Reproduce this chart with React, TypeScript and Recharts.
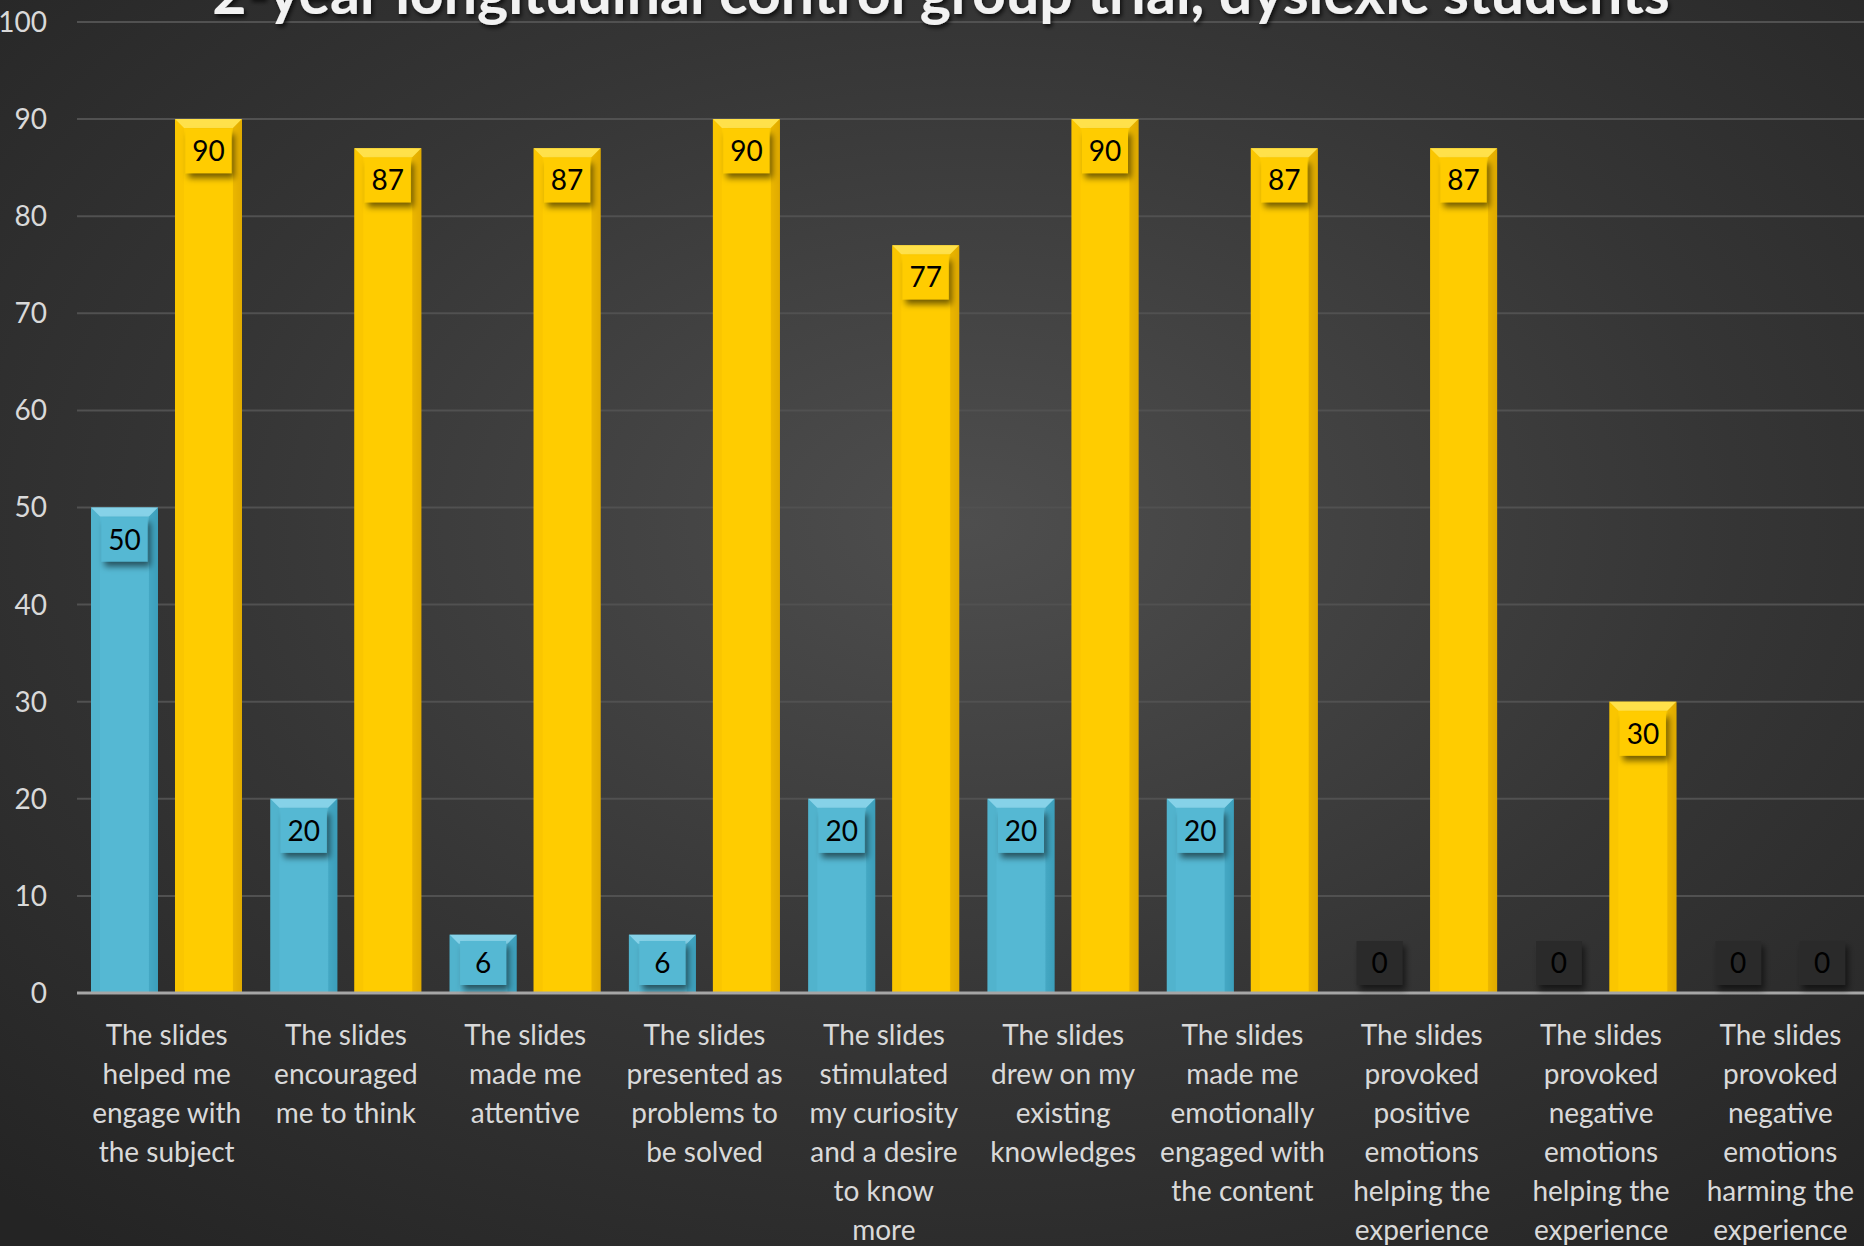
import { Bar, BarChart, CartesianGrid, XAxis, YAxis } from "recharts";

const title = "2-year longitudinal control group trial, dyslexic students";

const categories = [
  "The slides\nhelped me\nengage with\nthe subject",
  "The slides\nencouraged\nme to think",
  "The slides\nmade me\nattentive",
  "The slides\npresented as\nproblems to\nbe solved",
  "The slides\nstimulated\nmy curiosity\nand a desire\nto know\nmore",
  "The slides\ndrew on my\nexisting\nknowledges",
  "The slides\nmade me\nemotionally\nengaged with\nthe content",
  "The slides\nprovoked\npositive\nemotions\nhelping the\nexperience",
  "The slides\nprovoked\nnegative\nemotions\nhelping the\nexperience",
  "The slides\nprovoked\nnegative\nemotions\nharming the\nexperience",
];

const controlValues = [50, 20, 6, 6, 20, 20, 20, 0, 0, 0];
const trialValues = [90, 87, 87, 90, 77, 90, 87, 87, 30, 0];

const yTicks = [0, 10, 20, 30, 40, 50, 60, 70, 80, 90, 100];

const data = categories.map((c, i) => ({
  name: c,
  control: controlValues[i],
  trial: trialValues[i],
}));

const FONT = "Lato, 'Open Sans', sans-serif";

const palette = {
  cyan: { main: "#55b8d3", edge: "#3c9fba", top: "#86d2e8", side: "#4aa9c4" },
  yellow: { main: "#ffcc00", edge: "#e0aa00", top: "#ffe14a", side: "#f2bb00" },
};

function makeShape(key: "cyan" | "yellow") {
  const c = palette[key];
  return (props: any) => {
    const { x, y, width, height } = props;
    if (!height || height <= 0) return <g />;
    const b = Math.min(9, height / 2);
    return (
      <g>
        <rect x={x} y={y} width={width} height={height} fill={`url(#grad-${key})`} />
        <polygon
          points={`${x},${y} ${x + width},${y} ${x + width - b},${y + b} ${x + b},${y + b}`}
          fill={c.top}
        />
        <polygon
          points={`${x},${y} ${x + b},${y + b} ${x + b},${y + height} ${x},${y + height}`}
          fill={c.side}
          opacity={0.35}
        />
        <polygon
          points={`${x + width},${y} ${x + width - b},${y + b} ${x + width - b},${y + height} ${x + width},${y + height}`}
          fill={c.edge}
          opacity={0.6}
        />
      </g>
    );
  };
}

function makeLabel(key: "cyan" | "yellow") {
  const c = palette[key];
  return (props: any) => {
    const { x, y, width, height, value } = props;
    const cx = x + width / 2;
    const cy = Math.min(y + 32, y + height - 30);
    const bg = value === 0 ? "#2a2a2a" : c.main;
    return (
      <g>
        <rect x={cx - 23} y={cy - 22} width={46} height={44} fill={bg} filter="url(#lblShadow)" />
        <text
          x={cx}
          y={cy}
          dy="0.36em"
          textAnchor="middle"
          fontSize={28}
          fontFamily={FONT}
          fill="#000"
        >
          {value}
        </text>
      </g>
    );
  };
}

function CategoryTick(props: any) {
  const { x, y, payload } = props;
  const lines = String(payload.value).split("\n");
  return (
    <text x={x} y={y} textAnchor="middle" fontSize={28} fontFamily={FONT} fill="#d9d9d9">
      {lines.map((l, i) => (
        <tspan key={i} x={x} dy={i === 0 ? 44 : 39}>
          {l}
        </tspan>
      ))}
    </text>
  );
}

export default function App() {
  return (
    <div
      style={{
        position: "absolute",
        left: 0,
        top: 0,
        width: 1864,
        height: 1246,
        overflow: "hidden",
        background:
          "radial-gradient(ellipse 75% 75% at 52% 42%, #4e4e4e 0%, #353535 55%, #242424 100%)",
      }}
    >
      <svg width={0} height={0} style={{ position: "absolute" }}>
        <defs>
          <linearGradient id="grad-cyan" x1="0" y1="0" x2="1" y2="0">
            <stop offset="0%" stopColor={palette.cyan.main} />
            <stop offset="85%" stopColor={palette.cyan.main} />
            <stop offset="100%" stopColor={palette.cyan.edge} />
          </linearGradient>
          <linearGradient id="grad-yellow" x1="0" y1="0" x2="1" y2="0">
            <stop offset="0%" stopColor={palette.yellow.main} />
            <stop offset="85%" stopColor={palette.yellow.main} />
            <stop offset="100%" stopColor={palette.yellow.edge} />
          </linearGradient>
          <filter id="lblShadow" x="-30%" y="-30%" width="170%" height="170%">
            <feDropShadow dx="3" dy="5" stdDeviation="3" floodColor="#000" floodOpacity="0.55" />
          </filter>
        </defs>
      </svg>
      <BarChart
        width={1870}
        height={1246}
        data={data}
        margin={{ top: 22, right: 0, left: 0, bottom: 0 }}
        barSize={67}
        barGap={17}
        style={{ fontFamily: FONT }}
      >
        <CartesianGrid vertical={false} stroke="#515151" strokeWidth={2} />
        <XAxis
          dataKey="name"
          height={253}
          interval={0}
          axisLine={{ stroke: "#a6a6a6", strokeWidth: 3 }}
          tickLine={false}
          tick={<CategoryTick />}
        />
        <YAxis
          domain={[0, 100]}
          ticks={yTicks}
          width={77}
          axisLine={false}
          tickLine={false}
          tickSize={6}
          tickMargin={24}
          tick={{ fill: "#d9d9d9", fontSize: 28, fontFamily: FONT }}
        />
        <Bar
          dataKey="control"
          shape={makeShape("cyan")}
          label={makeLabel("cyan")}
          isAnimationActive={false}
        />
        <Bar
          dataKey="trial"
          shape={makeShape("yellow")}
          label={makeLabel("yellow")}
          isAnimationActive={false}
        />
      </BarChart>
      <svg
        width={1864}
        height={60}
        style={{ position: "absolute", left: 0, top: 0, pointerEvents: "none" }}
      >
        <defs>
          <filter id="titleShadow" x="-5%" y="-50%" width="110%" height="200%">
            <feDropShadow dx="2" dy="3" stdDeviation="2" floodColor="#000" floodOpacity="0.7" />
          </filter>
        </defs>
        <text
          x={941}
          y={14}
          textAnchor="middle"
          fontSize={59}
          fontWeight={700}
          fontFamily={FONT}
          fill="#f2f2f2"
          filter="url(#titleShadow)"
        >
          {title}
        </text>
      </svg>
    </div>
  );
}
